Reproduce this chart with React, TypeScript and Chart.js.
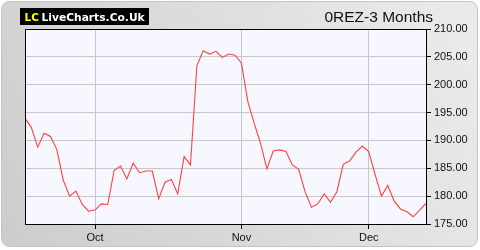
import React, { useEffect, useRef } from "react";
import { Chart, registerables } from "chart.js";

Chart.register(...registerables);

const values: number[] = [
  194.0, 192.3, 188.8, 191.3, 190.7, 188.4, 182.9, 180.0, 180.9, 178.5,
  177.3, 177.5, 178.6, 178.5, 184.6, 185.4, 183.1, 185.9, 184.2, 184.5,
  184.5, 179.5, 182.5, 183.0, 180.4, 187.1, 185.6, 203.4, 206.1, 205.5,
  206.0, 204.9, 205.5, 205.3, 203.9, 197.0, 193.1, 189.5, 184.9, 188.1,
  188.3, 188.0, 185.6, 184.8, 180.8, 178.0, 178.6, 180.4, 178.9, 180.8,
  185.7, 186.3, 187.9, 189.0, 188.0, 183.9, 180.0, 181.9, 179.1, 177.7,
  177.2, 176.3, 177.5, 178.7,
];
const xTickPositions: number[] = [11, 34, 54];
const xTickLabels: string[] = ["Oct", "Nov", "Dec"];
const yMin = 175;
const yMax = 210;
const yStep = 5;
const title = "0REZ-3 Months";

const decorPlugin = {
  id: "decor",
  beforeDraw(chart: any) {
    const ctx = chart.ctx as CanvasRenderingContext2D;
    const W = chart.width;
    const H = chart.height;
    ctx.save();
    ctx.fillStyle = "#ffffff";
    ctx.fillRect(0, 0, W, H);
    const g = ctx.createLinearGradient(0, H, W, 0);
    g.addColorStop(0, "#cccccc");
    g.addColorStop(1, "#ececec");
    ctx.beginPath();
    (ctx as any).roundRect(1.5, 1.5, 476, 245, 8);
    ctx.fillStyle = g;
    ctx.fill();
    ctx.strokeStyle = "#c4c4c4";
    ctx.lineWidth = 1;
    ctx.stroke();
    const a = chart.chartArea;
    ctx.fillStyle = "#f7f8ff";
    ctx.fillRect(a.left, a.top, a.right - a.left, a.bottom - a.top);
    ctx.restore();
  },
  afterDraw(chart: any) {
    const ctx = chart.ctx as CanvasRenderingContext2D;
    const a = chart.chartArea;
    ctx.save();
    ctx.strokeStyle = "#000";
    ctx.lineWidth = 1;
    ctx.beginPath();
    ctx.moveTo(Math.round(a.left) + 0.5, Math.round(a.bottom));
    ctx.lineTo(Math.round(a.left) + 0.5, Math.round(a.top) + 0.5);
    ctx.lineTo(Math.round(a.right), Math.round(a.top) + 0.5);
    ctx.stroke();
    // logo
    ctx.fillStyle = "#000";
    ctx.fillRect(20, 8, 129, 17);
    ctx.textBaseline = "alphabetic";
    ctx.textAlign = "left";
    ctx.font = "bold 10.5px 'DejaVu Sans'";
    ctx.fillStyle = "#ffff00";
    ctx.fillText("LC", 24.5, 20.5);
    ctx.font = "bold 10.7px 'DejaVu Sans'";
    ctx.fillStyle = "#ffffff";
    ctx.fillText("LiveCharts.Co.Uk", 41.5, 20.5);
    // title
    ctx.font = "15.5px 'Liberation Sans', Arial, sans-serif";
    ctx.fillStyle = "#111";
    ctx.textAlign = "right";
    ctx.fillText(title, 433, 22);
    ctx.restore();
  },
};

export default function App() {
  const ref = useRef<HTMLCanvasElement | null>(null);
  useEffect(() => {
    if (!ref.current) return;
    const font = { family: "'Liberation Sans', Arial, sans-serif", size: 11 };
    const chart = new Chart(ref.current, {
      type: "line",
      data: {
        datasets: [
          {
            data: values.map((v, i) => ({ x: i, y: v })),
            borderColor: "#ff4040",
            borderWidth: 1.1,
            pointRadius: 0,
            tension: 0,
            fill: false,
          },
        ],
      },
      options: {
        animation: false,
        responsive: false,
        devicePixelRatio: 1,
        layout: { padding: { left: 25, top: 29, right: 0, bottom: 0 } },
        plugins: { legend: { display: false }, tooltip: { enabled: false } },
        scales: {
          x: {
            type: "linear",
            min: 0,
            max: values.length - 1,
            afterBuildTicks: (s: any) => {
              s.ticks = xTickPositions.map((v) => ({ value: v }));
            },
            afterFit: (s: any) => {
              s.height = 26;
            },
            ticks: {
              autoSkip: false,
              maxRotation: 0,
              padding: 2,
              color: "#111",
              font,
              callback: (v: any) => {
                const i = xTickPositions.indexOf(Number(v));
                return i >= 0 ? xTickLabels[i] : "";
              },
            },
            grid: { color: "#c8c8c8", tickColor: "#000", tickLength: 5, lineWidth: 1 },
            border: { display: true, color: "#000", width: 1 },
          },
          y: {
            position: "right",
            min: yMin,
            max: yMax,
            afterFit: (s: any) => {
              s.width = 54;
            },
            ticks: {
              stepSize: yStep,
              padding: 3,
              color: "#111",
              font,
              callback: (v: any) => Number(v).toFixed(2),
            },
            grid: { color: "#c8c8c8", tickColor: "#000", tickLength: 5, lineWidth: 1 },
            border: { display: true, color: "#000", width: 1 },
          },
        },
      },
      plugins: [decorPlugin],
    });
    return () => chart.destroy();
  }, []);
  return (
    <div style={{ position: "absolute", left: 0, top: 0, width: 480, height: 250 }}>
      <canvas ref={ref} width={480} height={250} style={{ display: "block" }} />
    </div>
  );
}
